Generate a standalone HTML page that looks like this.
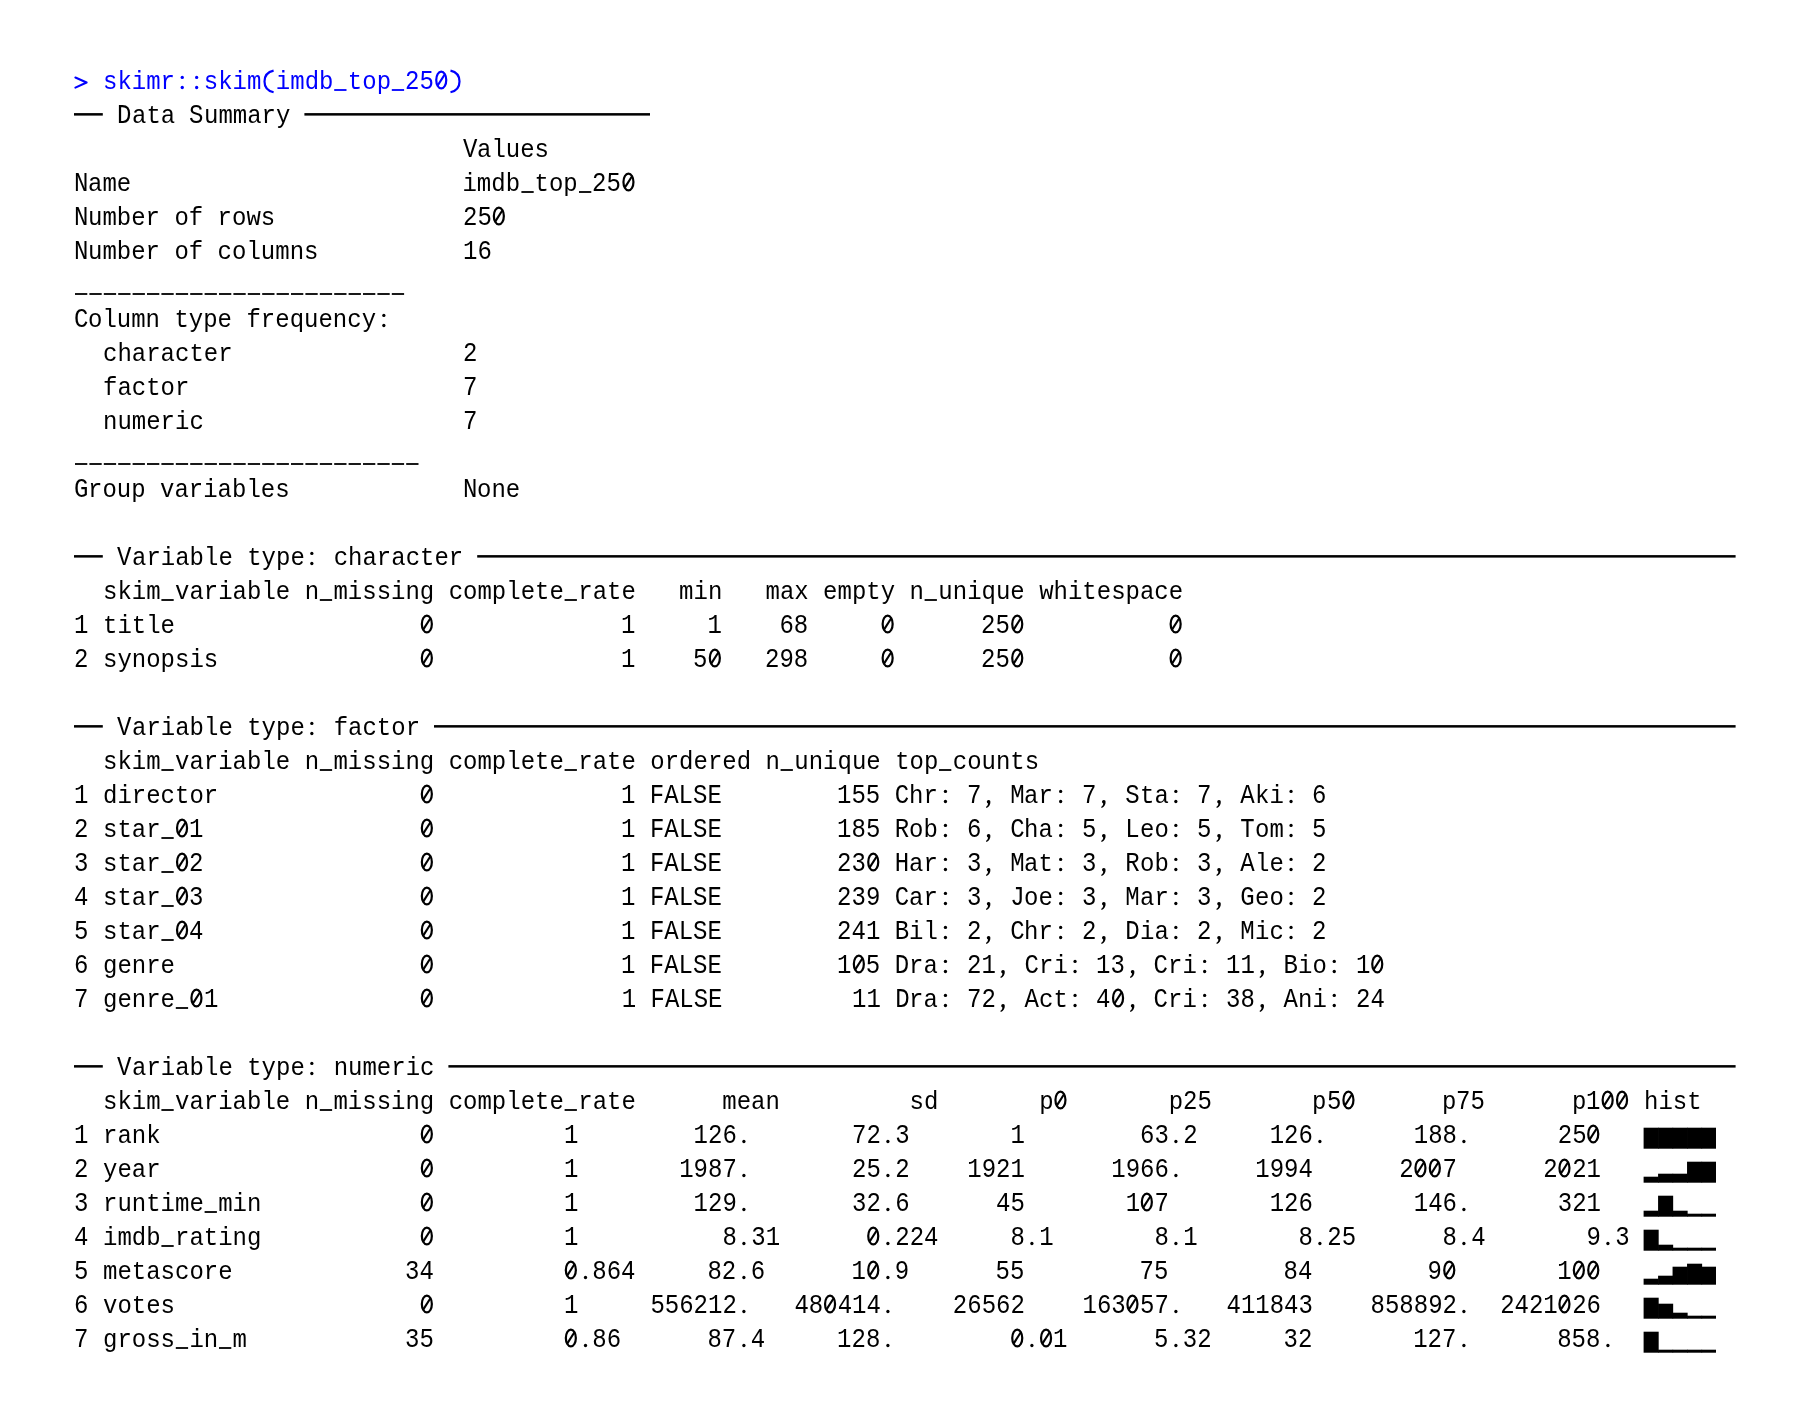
<!DOCTYPE html>
<html><head><meta charset="utf-8"><style>
html,body{margin:0;padding:0;background:#fff;}
body{width:1798px;height:1428px;position:relative;overflow:hidden;}
.s{position:absolute;height:34px;line-height:34px;font-family:"Liberation Mono",monospace;font-size:24px;white-space:pre;color:#000;will-change:transform;}
.u{transform:scaleY(1.145);transform-origin:0 23.0px;}
.w{transform:scaleY(1.05);transform-origin:0 23.0px;}
.c{color:#0000ff;}
svg{position:absolute;left:0;top:0;}
</style></head><body>
<div class="s w c" style="left:102.80px;top:66.00px">skimr  skim imdb top</div>
<div class="s u c" style="left:405.20px;top:66.00px">25</div>
<div class="s u" style="left:117.20px;top:100.00px">D</div>
<div class="s w" style="left:131.60px;top:100.00px">ata</div>
<div class="s u" style="left:189.20px;top:100.00px">S</div>
<div class="s w" style="left:203.60px;top:100.00px">ummary</div>
<div class="s u" style="left:462.80px;top:134.00px">V</div>
<div class="s w" style="left:477.20px;top:134.00px">alues</div>
<div class="s u" style="left:74.00px;top:168.00px">N</div>
<div class="s w" style="left:88.40px;top:168.00px">ame                       imdb top</div>
<div class="s u" style="left:592.40px;top:168.00px">25</div>
<div class="s u" style="left:74.00px;top:202.00px">N</div>
<div class="s w" style="left:88.40px;top:202.00px">umber of rows</div>
<div class="s u" style="left:462.80px;top:202.00px">25</div>
<div class="s u" style="left:74.00px;top:236.00px">N</div>
<div class="s w" style="left:88.40px;top:236.00px">umber of columns</div>
<div class="s u" style="left:462.80px;top:236.00px">16</div>
<div class="s u" style="left:74.00px;top:304.00px">C</div>
<div class="s w" style="left:88.40px;top:304.00px">olumn type frequency</div>
<div class="s w" style="left:102.80px;top:338.00px">character</div>
<div class="s u" style="left:462.80px;top:338.00px">2</div>
<div class="s w" style="left:102.80px;top:372.00px">factor</div>
<div class="s u" style="left:462.80px;top:372.00px">7</div>
<div class="s w" style="left:102.80px;top:406.00px">numeric</div>
<div class="s u" style="left:462.80px;top:406.00px">7</div>
<div class="s u" style="left:74.00px;top:474.00px">G</div>
<div class="s w" style="left:88.40px;top:474.00px">roup variables</div>
<div class="s u" style="left:462.80px;top:474.00px">N</div>
<div class="s w" style="left:477.20px;top:474.00px">one</div>
<div class="s u" style="left:117.20px;top:542.00px">V</div>
<div class="s w" style="left:131.60px;top:542.00px">ariable type  character</div>
<div class="s w" style="left:102.80px;top:576.00px">skim variable n missing complete rate   min   max empty n unique whitespace</div>
<div class="s u" style="left:74.00px;top:610.00px">1</div>
<div class="s w" style="left:102.80px;top:610.00px">title</div>
<div class="s u" style="left:621.20px;top:610.00px">1     1    68            25</div>
<div class="s u" style="left:74.00px;top:644.00px">2</div>
<div class="s w" style="left:102.80px;top:644.00px">synopsis</div>
<div class="s u" style="left:621.20px;top:644.00px">1    5    298            25</div>
<div class="s u" style="left:117.20px;top:712.00px">V</div>
<div class="s w" style="left:131.60px;top:712.00px">ariable type  factor</div>
<div class="s w" style="left:102.80px;top:746.00px">skim variable n missing complete rate ordered n unique top counts</div>
<div class="s u" style="left:74.00px;top:780.00px">1</div>
<div class="s w" style="left:102.80px;top:780.00px">director</div>
<div class="s u" style="left:621.20px;top:780.00px">1 FALSE        155 C</div>
<div class="s w" style="left:909.20px;top:780.00px">hr</div>
<div class="s u" style="left:966.80px;top:780.00px">7  M</div>
<div class="s w" style="left:1024.40px;top:780.00px">ar</div>
<div class="s u" style="left:1082.00px;top:780.00px">7  S</div>
<div class="s w" style="left:1139.60px;top:780.00px">ta</div>
<div class="s u" style="left:1197.20px;top:780.00px">7  A</div>
<div class="s w" style="left:1254.80px;top:780.00px">ki</div>
<div class="s u" style="left:1312.40px;top:780.00px">6</div>
<div class="s u" style="left:74.00px;top:814.00px">2</div>
<div class="s w" style="left:102.80px;top:814.00px">star</div>
<div class="s u" style="left:189.20px;top:814.00px">1                             1 FALSE        185 R</div>
<div class="s w" style="left:909.20px;top:814.00px">ob</div>
<div class="s u" style="left:966.80px;top:814.00px">6  C</div>
<div class="s w" style="left:1024.40px;top:814.00px">ha</div>
<div class="s u" style="left:1082.00px;top:814.00px">5  L</div>
<div class="s w" style="left:1139.60px;top:814.00px">eo</div>
<div class="s u" style="left:1197.20px;top:814.00px">5  T</div>
<div class="s w" style="left:1254.80px;top:814.00px">om</div>
<div class="s u" style="left:1312.40px;top:814.00px">5</div>
<div class="s u" style="left:74.00px;top:848.00px">3</div>
<div class="s w" style="left:102.80px;top:848.00px">star</div>
<div class="s u" style="left:189.20px;top:848.00px">2                             1 FALSE        23  H</div>
<div class="s w" style="left:909.20px;top:848.00px">ar</div>
<div class="s u" style="left:966.80px;top:848.00px">3  M</div>
<div class="s w" style="left:1024.40px;top:848.00px">at</div>
<div class="s u" style="left:1082.00px;top:848.00px">3  R</div>
<div class="s w" style="left:1139.60px;top:848.00px">ob</div>
<div class="s u" style="left:1197.20px;top:848.00px">3  A</div>
<div class="s w" style="left:1254.80px;top:848.00px">le</div>
<div class="s u" style="left:1312.40px;top:848.00px">2</div>
<div class="s u" style="left:74.00px;top:882.00px">4</div>
<div class="s w" style="left:102.80px;top:882.00px">star</div>
<div class="s u" style="left:189.20px;top:882.00px">3                             1 FALSE        239 C</div>
<div class="s w" style="left:909.20px;top:882.00px">ar</div>
<div class="s u" style="left:966.80px;top:882.00px">3  J</div>
<div class="s w" style="left:1024.40px;top:882.00px">oe</div>
<div class="s u" style="left:1082.00px;top:882.00px">3  M</div>
<div class="s w" style="left:1139.60px;top:882.00px">ar</div>
<div class="s u" style="left:1197.20px;top:882.00px">3  G</div>
<div class="s w" style="left:1254.80px;top:882.00px">eo</div>
<div class="s u" style="left:1312.40px;top:882.00px">2</div>
<div class="s u" style="left:74.00px;top:916.00px">5</div>
<div class="s w" style="left:102.80px;top:916.00px">star</div>
<div class="s u" style="left:189.20px;top:916.00px">4                             1 FALSE        241 B</div>
<div class="s w" style="left:909.20px;top:916.00px">il</div>
<div class="s u" style="left:966.80px;top:916.00px">2  C</div>
<div class="s w" style="left:1024.40px;top:916.00px">hr</div>
<div class="s u" style="left:1082.00px;top:916.00px">2  D</div>
<div class="s w" style="left:1139.60px;top:916.00px">ia</div>
<div class="s u" style="left:1197.20px;top:916.00px">2  M</div>
<div class="s w" style="left:1254.80px;top:916.00px">ic</div>
<div class="s u" style="left:1312.40px;top:916.00px">2</div>
<div class="s u" style="left:74.00px;top:950.00px">6</div>
<div class="s w" style="left:102.80px;top:950.00px">genre</div>
<div class="s u" style="left:621.20px;top:950.00px">1 FALSE        1 5 D</div>
<div class="s w" style="left:909.20px;top:950.00px">ra</div>
<div class="s u" style="left:966.80px;top:950.00px">21  C</div>
<div class="s w" style="left:1038.80px;top:950.00px">ri</div>
<div class="s u" style="left:1096.40px;top:950.00px">13  C</div>
<div class="s w" style="left:1168.40px;top:950.00px">ri</div>
<div class="s u" style="left:1226.00px;top:950.00px">11  B</div>
<div class="s w" style="left:1298.00px;top:950.00px">io</div>
<div class="s u" style="left:1355.60px;top:950.00px">1</div>
<div class="s u" style="left:74.00px;top:984.00px">7</div>
<div class="s w" style="left:102.80px;top:984.00px">genre</div>
<div class="s u" style="left:203.60px;top:984.00px">1                            1 FALSE         11 D</div>
<div class="s w" style="left:909.20px;top:984.00px">ra</div>
<div class="s u" style="left:966.80px;top:984.00px">72  A</div>
<div class="s w" style="left:1038.80px;top:984.00px">ct</div>
<div class="s u" style="left:1096.40px;top:984.00px">4   C</div>
<div class="s w" style="left:1168.40px;top:984.00px">ri</div>
<div class="s u" style="left:1226.00px;top:984.00px">38  A</div>
<div class="s w" style="left:1298.00px;top:984.00px">ni</div>
<div class="s u" style="left:1355.60px;top:984.00px">24</div>
<div class="s u" style="left:117.20px;top:1052.00px">V</div>
<div class="s w" style="left:131.60px;top:1052.00px">ariable type  numeric</div>
<div class="s w" style="left:102.80px;top:1086.00px">skim variable n missing complete rate      mean         sd       p        p</div>
<div class="s u" style="left:1182.80px;top:1086.00px">25</div>
<div class="s w" style="left:1312.40px;top:1086.00px">p</div>
<div class="s u" style="left:1326.80px;top:1086.00px">5</div>
<div class="s w" style="left:1442.00px;top:1086.00px">p</div>
<div class="s u" style="left:1456.40px;top:1086.00px">75</div>
<div class="s w" style="left:1571.60px;top:1086.00px">p</div>
<div class="s u" style="left:1586.00px;top:1086.00px">1</div>
<div class="s w" style="left:1643.60px;top:1086.00px">hist</div>
<div class="s u" style="left:74.00px;top:1120.00px">1</div>
<div class="s w" style="left:102.80px;top:1120.00px">rank</div>
<div class="s u" style="left:563.60px;top:1120.00px">1        126        72 3       1        63 2     126       188       25</div>
<div class="s u" style="left:74.00px;top:1154.00px">2</div>
<div class="s w" style="left:102.80px;top:1154.00px">year</div>
<div class="s u" style="left:563.60px;top:1154.00px">1       1987        25 2    1921      1966      1994      2  7      2 21</div>
<div class="s u" style="left:74.00px;top:1188.00px">3</div>
<div class="s w" style="left:102.80px;top:1188.00px">runtime min</div>
<div class="s u" style="left:563.60px;top:1188.00px">1        129        32 6      45       1 7       126       146       321</div>
<div class="s u" style="left:74.00px;top:1222.00px">4</div>
<div class="s w" style="left:102.80px;top:1222.00px">imdb rating</div>
<div class="s u" style="left:563.60px;top:1222.00px">1          8 31        224     8 1       8 1       8 25      8 4       9 3</div>
<div class="s u" style="left:74.00px;top:1256.00px">5</div>
<div class="s w" style="left:102.80px;top:1256.00px">metascore</div>
<div class="s u" style="left:405.20px;top:1256.00px">34           864     82 6      1  9      55        75        84        9        1</div>
<div class="s u" style="left:74.00px;top:1290.00px">6</div>
<div class="s w" style="left:102.80px;top:1290.00px">votes</div>
<div class="s u" style="left:563.60px;top:1290.00px">1     556212    48 414     26562    163 57    411843    858892   2421 26</div>
<div class="s u" style="left:74.00px;top:1324.00px">7</div>
<div class="s w" style="left:102.80px;top:1324.00px">gross in m</div>
<div class="s u" style="left:405.20px;top:1324.00px">35           86      87 4     128            1      5 32     32       127       858</div>
<svg width="1798" height="1428" fill="#000" stroke="#000"><defs><symbol id="cm" overflow="visible"><path stroke="none" d="M5.6,-1.4A1.8,1.8 0 1 1 9.2,-1.2C9.3,1.8 7.9,3.9 5.3,5.0L4.7,4.0C6.1,3.0 6.8,1.8 6.8,0.4A1.8,1.8 0 0 1 5.6,-1.4Z"/></symbol><symbol id="z" overflow="visible"><ellipse cx="7.25" cy="-9.00" rx="5.00" ry="8.40" fill="none" stroke-width="2.20"/><line x1="11.0" y1="-15.0" x2="3.6" y2="-3.4" stroke-width="2.1"/></symbol></defs><g stroke="none"><rect x="334.20" y="89.10" width="12.30" height="1.80" fill="#0000ff"/><rect x="391.80" y="89.10" width="12.30" height="1.80" fill="#0000ff"/><rect x="74.00" y="113.10" width="28.80" height="2.50"/><rect x="304.40" y="113.10" width="345.60" height="2.50"/><rect x="521.40" y="191.10" width="12.30" height="1.80"/><rect x="579.00" y="191.10" width="12.30" height="1.80"/><rect x="75.00" y="293.10" width="12.30" height="1.80"/><rect x="89.40" y="293.10" width="12.30" height="1.80"/><rect x="103.80" y="293.10" width="12.30" height="1.80"/><rect x="118.20" y="293.10" width="12.30" height="1.80"/><rect x="132.60" y="293.10" width="12.30" height="1.80"/><rect x="147.00" y="293.10" width="12.30" height="1.80"/><rect x="161.40" y="293.10" width="12.30" height="1.80"/><rect x="175.80" y="293.10" width="12.30" height="1.80"/><rect x="190.20" y="293.10" width="12.30" height="1.80"/><rect x="204.60" y="293.10" width="12.30" height="1.80"/><rect x="219.00" y="293.10" width="12.30" height="1.80"/><rect x="233.40" y="293.10" width="12.30" height="1.80"/><rect x="247.80" y="293.10" width="12.30" height="1.80"/><rect x="262.20" y="293.10" width="12.30" height="1.80"/><rect x="276.60" y="293.10" width="12.30" height="1.80"/><rect x="291.00" y="293.10" width="12.30" height="1.80"/><rect x="305.40" y="293.10" width="12.30" height="1.80"/><rect x="319.80" y="293.10" width="12.30" height="1.80"/><rect x="334.20" y="293.10" width="12.30" height="1.80"/><rect x="348.60" y="293.10" width="12.30" height="1.80"/><rect x="363.00" y="293.10" width="12.30" height="1.80"/><rect x="377.40" y="293.10" width="12.30" height="1.80"/><rect x="391.80" y="293.10" width="12.30" height="1.80"/><rect x="75.00" y="463.10" width="12.30" height="1.80"/><rect x="89.40" y="463.10" width="12.30" height="1.80"/><rect x="103.80" y="463.10" width="12.30" height="1.80"/><rect x="118.20" y="463.10" width="12.30" height="1.80"/><rect x="132.60" y="463.10" width="12.30" height="1.80"/><rect x="147.00" y="463.10" width="12.30" height="1.80"/><rect x="161.40" y="463.10" width="12.30" height="1.80"/><rect x="175.80" y="463.10" width="12.30" height="1.80"/><rect x="190.20" y="463.10" width="12.30" height="1.80"/><rect x="204.60" y="463.10" width="12.30" height="1.80"/><rect x="219.00" y="463.10" width="12.30" height="1.80"/><rect x="233.40" y="463.10" width="12.30" height="1.80"/><rect x="247.80" y="463.10" width="12.30" height="1.80"/><rect x="262.20" y="463.10" width="12.30" height="1.80"/><rect x="276.60" y="463.10" width="12.30" height="1.80"/><rect x="291.00" y="463.10" width="12.30" height="1.80"/><rect x="305.40" y="463.10" width="12.30" height="1.80"/><rect x="319.80" y="463.10" width="12.30" height="1.80"/><rect x="334.20" y="463.10" width="12.30" height="1.80"/><rect x="348.60" y="463.10" width="12.30" height="1.80"/><rect x="363.00" y="463.10" width="12.30" height="1.80"/><rect x="377.40" y="463.10" width="12.30" height="1.80"/><rect x="391.80" y="463.10" width="12.30" height="1.80"/><rect x="406.20" y="463.10" width="12.30" height="1.80"/><rect x="74.00" y="555.10" width="28.80" height="2.50"/><rect x="477.20" y="555.10" width="1258.40" height="2.50"/><rect x="161.40" y="599.10" width="12.30" height="1.80"/><rect x="319.80" y="599.10" width="12.30" height="1.80"/><rect x="564.60" y="599.10" width="12.30" height="1.80"/><rect x="924.60" y="599.10" width="12.30" height="1.80"/><rect x="74.00" y="725.10" width="28.80" height="2.50"/><rect x="434.00" y="725.10" width="1301.60" height="2.50"/><rect x="161.40" y="769.10" width="12.30" height="1.80"/><rect x="319.80" y="769.10" width="12.30" height="1.80"/><rect x="564.60" y="769.10" width="12.30" height="1.80"/><rect x="780.60" y="769.10" width="12.30" height="1.80"/><rect x="939.00" y="769.10" width="12.30" height="1.80"/><rect x="161.40" y="837.10" width="12.30" height="1.80"/><rect x="161.40" y="871.10" width="12.30" height="1.80"/><rect x="161.40" y="905.10" width="12.30" height="1.80"/><rect x="161.40" y="939.10" width="12.30" height="1.80"/><rect x="175.80" y="1007.10" width="12.30" height="1.80"/><rect x="74.00" y="1065.10" width="28.80" height="2.50"/><rect x="448.40" y="1065.10" width="1287.20" height="2.50"/><rect x="161.40" y="1109.10" width="12.30" height="1.80"/><rect x="319.80" y="1109.10" width="12.30" height="1.80"/><rect x="564.60" y="1109.10" width="12.30" height="1.80"/><rect x="204.60" y="1211.10" width="12.30" height="1.80"/><rect x="161.40" y="1245.10" width="12.30" height="1.80"/><rect x="175.80" y="1347.10" width="12.30" height="1.80"/><rect x="219.00" y="1347.10" width="12.30" height="1.80"/><rect x="1643.60" y="1127.70" width="15.08" height="21.00"/><rect x="1658.08" y="1127.70" width="15.08" height="21.00"/><rect x="1672.56" y="1127.70" width="15.08" height="21.00"/><rect x="1687.04" y="1127.70" width="15.08" height="21.00"/><rect x="1701.52" y="1127.70" width="14.48" height="21.00"/><rect x="1643.60" y="1176.70" width="15.08" height="6.00"/><rect x="1658.08" y="1173.70" width="15.08" height="9.00"/><rect x="1672.56" y="1173.70" width="15.08" height="9.00"/><rect x="1687.04" y="1161.70" width="15.08" height="21.00"/><rect x="1701.52" y="1161.70" width="14.48" height="21.00"/><rect x="1643.60" y="1210.70" width="15.08" height="6.00"/><rect x="1658.08" y="1195.70" width="15.08" height="21.00"/><rect x="1672.56" y="1210.70" width="15.08" height="6.00"/><rect x="1687.04" y="1213.70" width="15.08" height="3.00"/><rect x="1701.52" y="1213.70" width="14.48" height="3.00"/><rect x="1643.60" y="1229.70" width="15.08" height="21.00"/><rect x="1658.08" y="1244.70" width="15.08" height="6.00"/><rect x="1672.56" y="1247.70" width="15.08" height="3.00"/><rect x="1687.04" y="1247.70" width="15.08" height="3.00"/><rect x="1701.52" y="1247.70" width="14.48" height="3.00"/><rect x="1643.60" y="1278.70" width="15.08" height="6.00"/><rect x="1658.08" y="1275.70" width="15.08" height="9.00"/><rect x="1672.56" y="1266.70" width="15.08" height="18.00"/><rect x="1687.04" y="1263.70" width="15.08" height="21.00"/><rect x="1701.52" y="1266.70" width="14.48" height="18.00"/><rect x="1643.60" y="1297.70" width="15.08" height="21.00"/><rect x="1658.08" y="1303.70" width="15.08" height="15.00"/><rect x="1672.56" y="1312.70" width="15.08" height="6.00"/><rect x="1687.04" y="1315.70" width="15.08" height="3.00"/><rect x="1701.52" y="1315.70" width="14.48" height="3.00"/><rect x="1643.60" y="1331.70" width="15.08" height="21.00"/><rect x="1658.08" y="1349.70" width="15.08" height="3.00"/><rect x="1672.56" y="1349.70" width="15.08" height="3.00"/><rect x="1687.04" y="1349.70" width="15.08" height="3.00"/><rect x="1701.52" y="1349.70" width="14.48" height="3.00"/></g><circle cx="182.25" cy="77.40" r="1.65" stroke="none" fill="#0000ff"/><circle cx="182.25" cy="87.50" r="1.65" stroke="none" fill="#0000ff"/><circle cx="196.65" cy="77.40" r="1.65" stroke="none" fill="#0000ff"/><circle cx="196.65" cy="87.50" r="1.65" stroke="none" fill="#0000ff"/><path d="M273.60 70.60C267.50 72.00 264.50 76.50 264.50 81.40C264.50 86.30 267.50 90.80 273.60 92.20" fill="none" stroke-width="2.2" stroke="#0000ff"/><path d="M450.50 70.60C456.60 72.00 459.50 76.50 459.50 81.40C459.50 86.30 456.60 90.80 450.50 92.20" fill="none" stroke-width="2.2" stroke="#0000ff"/><circle cx="383.85" cy="315.40" r="1.65" stroke="none"/><circle cx="383.85" cy="325.50" r="1.65" stroke="none"/><circle cx="311.85" cy="553.40" r="1.65" stroke="none"/><circle cx="311.85" cy="563.50" r="1.65" stroke="none"/><circle cx="311.85" cy="723.40" r="1.65" stroke="none"/><circle cx="311.85" cy="733.50" r="1.65" stroke="none"/><circle cx="945.45" cy="791.40" r="1.65" stroke="none"/><circle cx="945.45" cy="801.50" r="1.65" stroke="none"/><use href="#cm" x="981.20" y="803.00"/><circle cx="1060.65" cy="791.40" r="1.65" stroke="none"/><circle cx="1060.65" cy="801.50" r="1.65" stroke="none"/><use href="#cm" x="1096.40" y="803.00"/><circle cx="1175.85" cy="791.40" r="1.65" stroke="none"/><circle cx="1175.85" cy="801.50" r="1.65" stroke="none"/><use href="#cm" x="1211.60" y="803.00"/><circle cx="1291.05" cy="791.40" r="1.65" stroke="none"/><circle cx="1291.05" cy="801.50" r="1.65" stroke="none"/><circle cx="945.45" cy="825.40" r="1.65" stroke="none"/><circle cx="945.45" cy="835.50" r="1.65" stroke="none"/><use href="#cm" x="981.20" y="837.00"/><circle cx="1060.65" cy="825.40" r="1.65" stroke="none"/><circle cx="1060.65" cy="835.50" r="1.65" stroke="none"/><use href="#cm" x="1096.40" y="837.00"/><circle cx="1175.85" cy="825.40" r="1.65" stroke="none"/><circle cx="1175.85" cy="835.50" r="1.65" stroke="none"/><use href="#cm" x="1211.60" y="837.00"/><circle cx="1291.05" cy="825.40" r="1.65" stroke="none"/><circle cx="1291.05" cy="835.50" r="1.65" stroke="none"/><circle cx="945.45" cy="859.40" r="1.65" stroke="none"/><circle cx="945.45" cy="869.50" r="1.65" stroke="none"/><use href="#cm" x="981.20" y="871.00"/><circle cx="1060.65" cy="859.40" r="1.65" stroke="none"/><circle cx="1060.65" cy="869.50" r="1.65" stroke="none"/><use href="#cm" x="1096.40" y="871.00"/><circle cx="1175.85" cy="859.40" r="1.65" stroke="none"/><circle cx="1175.85" cy="869.50" r="1.65" stroke="none"/><use href="#cm" x="1211.60" y="871.00"/><circle cx="1291.05" cy="859.40" r="1.65" stroke="none"/><circle cx="1291.05" cy="869.50" r="1.65" stroke="none"/><circle cx="945.45" cy="893.40" r="1.65" stroke="none"/><circle cx="945.45" cy="903.50" r="1.65" stroke="none"/><use href="#cm" x="981.20" y="905.00"/><circle cx="1060.65" cy="893.40" r="1.65" stroke="none"/><circle cx="1060.65" cy="903.50" r="1.65" stroke="none"/><use href="#cm" x="1096.40" y="905.00"/><circle cx="1175.85" cy="893.40" r="1.65" stroke="none"/><circle cx="1175.85" cy="903.50" r="1.65" stroke="none"/><use href="#cm" x="1211.60" y="905.00"/><circle cx="1291.05" cy="893.40" r="1.65" stroke="none"/><circle cx="1291.05" cy="903.50" r="1.65" stroke="none"/><circle cx="945.45" cy="927.40" r="1.65" stroke="none"/><circle cx="945.45" cy="937.50" r="1.65" stroke="none"/><use href="#cm" x="981.20" y="939.00"/><circle cx="1060.65" cy="927.40" r="1.65" stroke="none"/><circle cx="1060.65" cy="937.50" r="1.65" stroke="none"/><use href="#cm" x="1096.40" y="939.00"/><circle cx="1175.85" cy="927.40" r="1.65" stroke="none"/><circle cx="1175.85" cy="937.50" r="1.65" stroke="none"/><use href="#cm" x="1211.60" y="939.00"/><circle cx="1291.05" cy="927.40" r="1.65" stroke="none"/><circle cx="1291.05" cy="937.50" r="1.65" stroke="none"/><circle cx="945.45" cy="961.40" r="1.65" stroke="none"/><circle cx="945.45" cy="971.50" r="1.65" stroke="none"/><use href="#cm" x="995.60" y="973.00"/><circle cx="1075.05" cy="961.40" r="1.65" stroke="none"/><circle cx="1075.05" cy="971.50" r="1.65" stroke="none"/><use href="#cm" x="1125.20" y="973.00"/><circle cx="1204.65" cy="961.40" r="1.65" stroke="none"/><circle cx="1204.65" cy="971.50" r="1.65" stroke="none"/><use href="#cm" x="1254.80" y="973.00"/><circle cx="1334.25" cy="961.40" r="1.65" stroke="none"/><circle cx="1334.25" cy="971.50" r="1.65" stroke="none"/><circle cx="945.45" cy="995.40" r="1.65" stroke="none"/><circle cx="945.45" cy="1005.50" r="1.65" stroke="none"/><use href="#cm" x="995.60" y="1007.00"/><circle cx="1075.05" cy="995.40" r="1.65" stroke="none"/><circle cx="1075.05" cy="1005.50" r="1.65" stroke="none"/><use href="#cm" x="1125.20" y="1007.00"/><circle cx="1204.65" cy="995.40" r="1.65" stroke="none"/><circle cx="1204.65" cy="1005.50" r="1.65" stroke="none"/><use href="#cm" x="1254.80" y="1007.00"/><circle cx="1334.25" cy="995.40" r="1.65" stroke="none"/><circle cx="1334.25" cy="1005.50" r="1.65" stroke="none"/><circle cx="311.85" cy="1063.40" r="1.65" stroke="none"/><circle cx="311.85" cy="1073.50" r="1.65" stroke="none"/><circle cx="743.90" cy="1141.50" r="1.65" stroke="none"/><circle cx="887.90" cy="1141.50" r="1.65" stroke="none"/><circle cx="1175.90" cy="1141.50" r="1.65" stroke="none"/><circle cx="1319.90" cy="1141.50" r="1.65" stroke="none"/><circle cx="1463.90" cy="1141.50" r="1.65" stroke="none"/><circle cx="743.90" cy="1175.50" r="1.65" stroke="none"/><circle cx="887.90" cy="1175.50" r="1.65" stroke="none"/><circle cx="1175.90" cy="1175.50" r="1.65" stroke="none"/><circle cx="743.90" cy="1209.50" r="1.65" stroke="none"/><circle cx="887.90" cy="1209.50" r="1.65" stroke="none"/><circle cx="1463.90" cy="1209.50" r="1.65" stroke="none"/><circle cx="743.90" cy="1243.50" r="1.65" stroke="none"/><circle cx="887.90" cy="1243.50" r="1.65" stroke="none"/><circle cx="1031.90" cy="1243.50" r="1.65" stroke="none"/><circle cx="1175.90" cy="1243.50" r="1.65" stroke="none"/><circle cx="1319.90" cy="1243.50" r="1.65" stroke="none"/><circle cx="1463.90" cy="1243.50" r="1.65" stroke="none"/><circle cx="1607.90" cy="1243.50" r="1.65" stroke="none"/><circle cx="585.50" cy="1277.50" r="1.65" stroke="none"/><circle cx="743.90" cy="1277.50" r="1.65" stroke="none"/><circle cx="887.90" cy="1277.50" r="1.65" stroke="none"/><circle cx="743.90" cy="1311.50" r="1.65" stroke="none"/><circle cx="887.90" cy="1311.50" r="1.65" stroke="none"/><circle cx="1175.90" cy="1311.50" r="1.65" stroke="none"/><circle cx="1463.90" cy="1311.50" r="1.65" stroke="none"/><circle cx="585.50" cy="1345.50" r="1.65" stroke="none"/><circle cx="743.90" cy="1345.50" r="1.65" stroke="none"/><circle cx="887.90" cy="1345.50" r="1.65" stroke="none"/><circle cx="1031.90" cy="1345.50" r="1.65" stroke="none"/><circle cx="1175.90" cy="1345.50" r="1.65" stroke="none"/><circle cx="1463.90" cy="1345.50" r="1.65" stroke="none"/><circle cx="1607.90" cy="1345.50" r="1.65" stroke="none"/><use href="#z" x="434.00" y="89.00" stroke="#0000ff"/><use href="#z" x="621.20" y="191.00"/><use href="#z" x="491.60" y="225.00"/><use href="#z" x="419.60" y="633.00"/><use href="#z" x="880.40" y="633.00"/><use href="#z" x="1010.00" y="633.00"/><use href="#z" x="1168.40" y="633.00"/><use href="#z" x="419.60" y="667.00"/><use href="#z" x="707.60" y="667.00"/><use href="#z" x="880.40" y="667.00"/><use href="#z" x="1010.00" y="667.00"/><use href="#z" x="1168.40" y="667.00"/><use href="#z" x="419.60" y="803.00"/><use href="#z" x="174.80" y="837.00"/><use href="#z" x="419.60" y="837.00"/><use href="#z" x="174.80" y="871.00"/><use href="#z" x="419.60" y="871.00"/><use href="#z" x="866.00" y="871.00"/><use href="#z" x="174.80" y="905.00"/><use href="#z" x="419.60" y="905.00"/><use href="#z" x="174.80" y="939.00"/><use href="#z" x="419.60" y="939.00"/><use href="#z" x="419.60" y="973.00"/><use href="#z" x="851.60" y="973.00"/><use href="#z" x="1370.00" y="973.00"/><use href="#z" x="189.20" y="1007.00"/><use href="#z" x="419.60" y="1007.00"/><use href="#z" x="1110.80" y="1007.00"/><use href="#z" x="1053.20" y="1109.00"/><use href="#z" x="1341.20" y="1109.00"/><use href="#z" x="1600.40" y="1109.00"/><use href="#z" x="1614.80" y="1109.00"/><use href="#z" x="419.60" y="1143.00"/><use href="#z" x="1586.00" y="1143.00"/><use href="#z" x="419.60" y="1177.00"/><use href="#z" x="1413.20" y="1177.00"/><use href="#z" x="1427.60" y="1177.00"/><use href="#z" x="1557.20" y="1177.00"/><use href="#z" x="419.60" y="1211.00"/><use href="#z" x="1139.60" y="1211.00"/><use href="#z" x="419.60" y="1245.00"/><use href="#z" x="866.00" y="1245.00"/><use href="#z" x="563.60" y="1279.00"/><use href="#z" x="866.00" y="1279.00"/><use href="#z" x="1442.00" y="1279.00"/><use href="#z" x="1571.60" y="1279.00"/><use href="#z" x="1586.00" y="1279.00"/><use href="#z" x="419.60" y="1313.00"/><use href="#z" x="822.80" y="1313.00"/><use href="#z" x="1125.20" y="1313.00"/><use href="#z" x="1557.20" y="1313.00"/><use href="#z" x="563.60" y="1347.00"/><use href="#z" x="1010.00" y="1347.00"/><use href="#z" x="1038.80" y="1347.00"/><path d="M75.40 77.55L86.60 82.55L75.40 87.65" fill="none" stroke="#0000ff" stroke-width="2.1" stroke-linejoin="round" stroke-linecap="round"/></svg>
</body></html>
